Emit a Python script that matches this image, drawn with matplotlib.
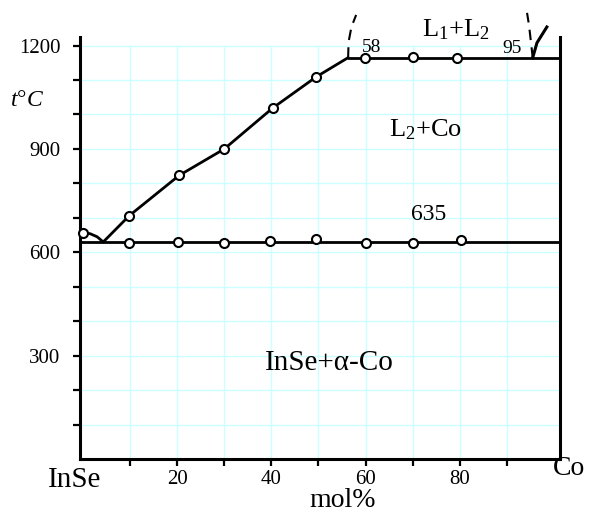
import matplotlib
matplotlib.use("Agg")
import matplotlib.pyplot as plt

plt.rcParams['font.family'] = ['Liberation Serif', 'DejaVu Serif']
plt.rcParams['mathtext.fontset'] = 'custom'
plt.rcParams['mathtext.rm'] = 'Liberation Serif'
plt.rcParams['mathtext.it'] = 'Liberation Serif:italic'

# liquidus (InSe side) and the small arc down to the eutectic
arc_x = [0, 1.5, 3.0, 4.3]
arc_t = [657, 654, 645, 630]
liq_x = [4.3, 9.8, 20.4, 30, 40.3, 49.5, 56.3]
liq_t = [630, 706, 823, 900, 1019, 1109, 1165]

# thermal-analysis points
liq_pts_x = [0, 9.8, 20.4, 30, 40.3, 49.5]
liq_pts_t = [657, 706, 823, 900, 1019, 1109]
mono_pts_x = [59.9, 70.1, 79.4]
mono_pts_t = [1165, 1166, 1165]
eut_pts_x = [9.8, 20.2, 30, 39.8, 49.5, 60.2, 70.1, 80.2]
eut_pts_t = [628, 629, 628, 634, 640, 626, 626, 635]

eut_t = 630
mono_t = 1165
mono_x = [56.3, 101.3]

# miscibility gap boundaries above the monotectic
gap_left_x = [56.3, 56.4, 57.0, 58.0]
gap_left_t = [1165, 1211, 1254, 1289]
gap_right_x = [95.5, 94.9, 94.7, 94.3]
gap_right_t = [1165, 1237, 1260, 1295]
co_liq_x = [95.5, 96.4, 98.5]
co_liq_t = [1165, 1208, 1254]

x_lo, x_hi = -0.64, 101.3

fig = plt.figure(figsize=(5.9, 5.13), dpi=100)
ax = fig.add_axes([0.1356, 0.1053, 0.8136, 0.8226])
ax.set_xlim(x_lo, x_hi)
ax.set_ylim(0, 1225)

grid_c = '#ccffff'
for gx in range(10, 100, 10):
    ax.plot([gx, gx], [0, 1200], color=grid_c, lw=1.0, zorder=0)
for gy in range(100, 1300, 100):
    ax.plot([x_lo, x_hi], [gy, gy], color=grid_c, lw=1.0, zorder=0)

lk = dict(color='black', lw=2.0, solid_capstyle='round')
ax.plot(arc_x, arc_t, **lk)
ax.plot(liq_x, liq_t, **lk)
ax.plot([x_lo, x_hi], [eut_t, eut_t], **lk)
ax.plot(mono_x, [mono_t, mono_t], **lk)
dash = dict(color='black', lw=1.5, ls=(0, (5, 3.5)), clip_on=False)
ax.plot(gap_left_x, gap_left_t, **dash)
ax.plot(gap_right_x, gap_right_t, **dash)
ax.plot(co_liq_x, co_liq_t, color='black', lw=2.2, clip_on=False)

mk = dict(ls='none', marker='o', ms=6.5, mfc='white', mec='black', mew=1.5, zorder=5, clip_on=False)
ax.plot(liq_pts_x, liq_pts_t, **mk)
ax.plot(mono_pts_x, mono_pts_t, **mk)
ax.plot(eut_pts_x, eut_pts_t, **mk)

ax.spines['top'].set_visible(False)
for s in ['left', 'right', 'bottom']:
    ax.spines[s].set_linewidth(2.2)

ax.set_xticks(range(10, 100, 10))
ax.set_xticklabels(['' if v % 20 else str(v) for v in range(10, 100, 10)])
ax.set_yticks(range(100, 1300, 100))
ax.set_yticklabels([str(v) if v % 300 == 0 else '' for v in range(100, 1300, 100)])
ax.tick_params(direction='out', length=5, width=1.6, labelsize=15)
ax.tick_params(axis='y', pad=9)
ax.tick_params(axis='x', pad=3)

# labels outside the axes (figure fractions)
fig.text(0.127, 0.0643, 'InSe', fontsize=21, ha='center', va='center')
fig.text(0.9644, 0.0858, 'Co', fontsize=20, ha='center', va='center')
fig.text(0.581, 0.012, 'mol%', fontsize=20, ha='center', va='baseline')
fig.text(0.0458, 0.805, r'$t$°$C$', fontsize=17, ha='center', va='center')

# field labels
ax.text(72.8, 956, 'L$_2$+Co', fontsize=19, ha='center', va='center')
ax.text(52.4, 280, 'InSe+α-Co', fontsize=21, ha='center', va='center')
ax.text(73.3, 709, '635', fontsize=17, ha='center', va='center')
ax.text(61.2, 1195, '58', fontsize=14, ha='center', va='center')
ax.text(91.1, 1193, '95', fontsize=14, ha='center', va='center')
ax.text(79.2, 1245, 'L$_1$+L$_2$', fontsize=19, ha='center', va='center')

fig.savefig('out.png', dpi=100)
